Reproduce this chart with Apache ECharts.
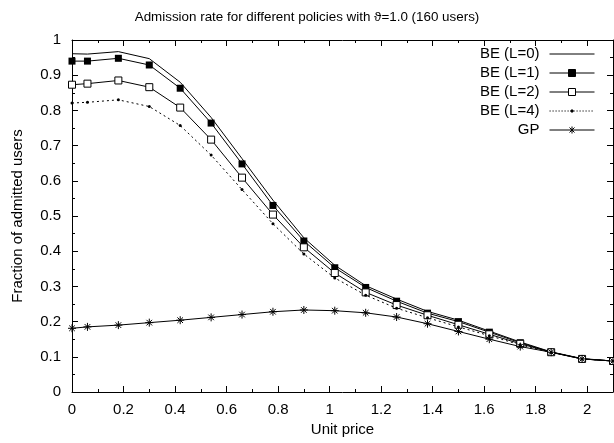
<!DOCTYPE html>
<html>
<head>
<meta charset="utf-8">
<script src="https://cdn.jsdelivr.net/npm/echarts@6/dist/echarts.min.js"></script>
<style>
  html, body { margin: 0; padding: 0; background: #fff; }
  #chart { width: 614px; height: 443px; }
</style>
</head>
<body>
<div id="chart"></div>
<script>
// unit price sample points
var prices = [0, 0.06, 0.18, 0.3, 0.42, 0.54, 0.66, 0.78, 0.9, 1.02, 1.14, 1.26, 1.38, 1.5, 1.62, 1.74, 1.86, 1.98, 2.1];

var be0 = [0.961, 0.960, 0.967, 0.947, 0.880, 0.780, 0.663, 0.545, 0.438, 0.360, 0.302, 0.264, 0.229, 0.204, 0.173, 0.142, 0.114, 0.095, 0.088];
var be1 = [0.940, 0.940, 0.948, 0.929, 0.863, 0.764, 0.648, 0.530, 0.429, 0.353, 0.297, 0.258, 0.224, 0.200, 0.170, 0.140, 0.113, 0.094, 0.088];
var be2 = [0.873, 0.876, 0.885, 0.866, 0.808, 0.717, 0.609, 0.504, 0.411, 0.338, 0.283, 0.247, 0.218, 0.191, 0.164, 0.137, 0.113, 0.094, 0.088];
var be4 = [0.821, 0.823, 0.830, 0.811, 0.757, 0.673, 0.575, 0.478, 0.392, 0.324, 0.275, 0.238, 0.211, 0.185, 0.160, 0.134, 0.112, 0.094, 0.088];
var gp  = [0.181, 0.185, 0.190, 0.197, 0.204, 0.212, 0.220, 0.228, 0.233, 0.231, 0.225, 0.213, 0.194, 0.172, 0.150, 0.129, 0.113, 0.094, 0.088];

var seriesNames = ['BE (L=0)', 'BE (L=1)', 'BE (L=2)', 'BE (L=4)', 'GP'];

function pairs(vals) {
    return prices.map(function (p, i) { return [p, vals[i]]; });
}

var chart = echarts.init(document.getElementById('chart'), null, { renderer: 'canvas' });

var font = 'Liberation Sans, Arial, Helvetica, sans-serif';
var ink = '#000';

var boxAxis = {
    axisLine: { show: true, onZero: false, lineStyle: { color: ink, width: 1 } },
    axisTick: { show: true, inside: true, length: 6, lineStyle: { color: ink } },
    minorTick: { show: true, splitNumber: 2, length: 3, lineStyle: { color: ink } },
    splitLine: { show: false }
};

var asterisk = 'path://M0,5L10,5M5,0L5,10M1.5,1.5L8.5,8.5M8.5,1.5L1.5,8.5';

// legend samples: 50x12 box, line runs from x=5 to 50, marker centred at 27.5
var box = 'M0,0M50,12';
var sq = 'M24,3L31,3L31,10L24,10Z';
var dots = '';
for (var d = 5; d < 50; d += 3) dots += 'M' + d + ',6.5L' + (d + 1.2) + ',6.5';
var icons = [
    'path://' + box + 'M5,6.5L50,6.5',
    'path://' + box + 'M5,6.5L24,6.5M31,6.5L50,6.5' + sq,
    'path://' + box + 'M5,6.5L24,6.5M31,6.5L50,6.5' + sq,
    'path://' + box + dots + 'M26.5,5.5L28.5,5.5L28.5,7.5L26.5,7.5Z',
    'path://' + box + 'M5,6.5L50,6.5M27.5,3L27.5,10M25,4L30,9M30,4L25,9'
];
var iconFill = [ink, ink, '#fff', ink, ink];

var option = {
    animation: false,
    backgroundColor: '#fff',
    textStyle: { fontFamily: font },
    title: {
        text: 'Admission rate for different policies with \u03D1=1.0 (160 users)',
        left: 'center',
        top: 6,
        textStyle: { fontSize: 13.4, fontWeight: 'normal', color: ink, fontFamily: font }
    },
    legend: {
        orient: 'vertical',
        right: 19,
        top: 46,
        padding: 0,
        align: 'right',
        itemWidth: 50,
        itemHeight: 12,
        itemGap: 4,
        textStyle: { fontSize: 15, color: ink, fontFamily: font },
        data: seriesNames.map(function (n, i) {
            return {
                name: n,
                icon: icons[i],
                itemStyle: { color: iconFill[i], borderColor: ink, borderWidth: 1 }
            };
        })
    },
    grid: {
        left: 72,
        top: 40,
        right: 1,
        bottom: 51
    },
    xAxis: [
        Object.assign({
            type: 'value',
            min: 0,
            max: 2.1,
            interval: 0.2,
            name: 'Unit price',
            nameLocation: 'middle',
            nameGap: 30,
            nameTextStyle: { fontSize: 15, color: ink, fontFamily: font },
            axisLabel: { color: ink, fontSize: 15, margin: 10, showMaxLabel: false, fontFamily: font }
        }, boxAxis),
        Object.assign({
            type: 'value',
            position: 'top',
            min: 0,
            max: 2.1,
            interval: 0.2,
            axisLabel: { show: false }
        }, boxAxis)
    ],
    yAxis: [
        Object.assign({
            type: 'value',
            min: 0,
            max: 1,
            interval: 0.1,
            name: 'Fraction of admitted users',
            nameLocation: 'middle',
            nameGap: 47,
            nameTextStyle: { fontSize: 15, color: ink, fontFamily: font },
            axisLabel: { color: ink, fontSize: 15, margin: 11, fontFamily: font }
        }, boxAxis),
        Object.assign({
            type: 'value',
            position: 'right',
            min: 0,
            max: 1,
            interval: 0.1,
            axisLabel: { show: false }
        }, boxAxis)
    ],
    series: [
        {
            name: seriesNames[0],
            type: 'line',
            symbol: 'none',
            lineStyle: { color: ink, width: 1 },
            itemStyle: { color: ink },
            data: pairs(be0)
        },
        {
            name: seriesNames[1],
            type: 'line',
            symbol: 'rect',
            symbolSize: 7,
            lineStyle: { color: ink, width: 1 },
            itemStyle: { color: ink, borderColor: ink, borderWidth: 0 },
            data: pairs(be1)
        },
        {
            name: seriesNames[2],
            type: 'line',
            symbol: 'rect',
            symbolSize: 7,
            lineStyle: { color: ink, width: 1 },
            itemStyle: { color: '#fff', borderColor: ink, borderWidth: 1 },
            data: pairs(be2)
        },
        {
            name: seriesNames[3],
            type: 'line',
            symbol: 'circle',
            symbolSize: 3,
            lineStyle: { color: ink, width: 1, type: [2, 3] },
            itemStyle: { color: ink },
            data: pairs(be4)
        },
        {
            name: seriesNames[4],
            type: 'line',
            symbol: asterisk,
            symbolSize: 8,
            lineStyle: { color: ink, width: 1 },
            itemStyle: { color: ink, borderColor: ink, borderWidth: 1 },
            data: pairs(gp)
        }
    ]
};

chart.setOption(option);

window.addEventListener('resize', function () {
    chart.resize();
});
</script>
</body>
</html>
